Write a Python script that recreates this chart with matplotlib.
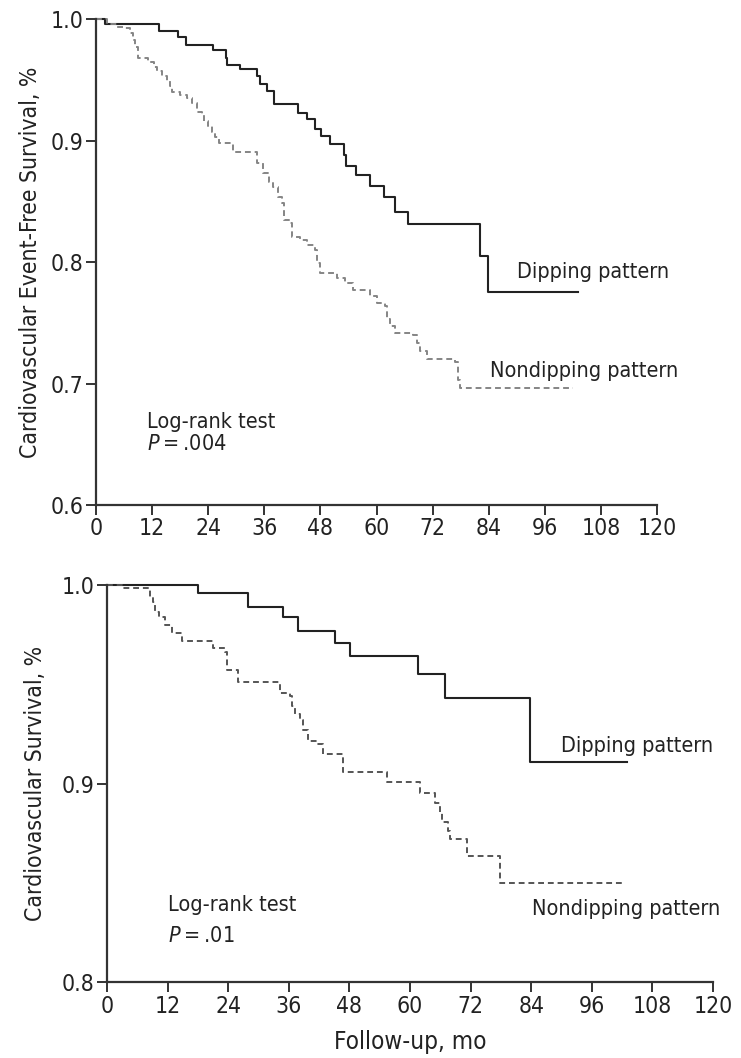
import matplotlib
matplotlib.use('Agg')
import matplotlib.pyplot as plt

plt.rcParams['font.family'] = ['DejaVu Sans']
plt.rcParams['font.stretch'] = 'condensed'
plt.rcParams['mathtext.fontset'] = 'custom'
plt.rcParams['mathtext.it'] = 'DejaVu Sans:italic'
plt.rcParams['mathtext.rm'] = 'DejaVu Sans'

# top panel: event-free survival (months, survival after each event)
top_dip_t = [0, 1.9, 13.5, 17.6, 19.2, 25.1, 27.8, 28.1, 30.9, 34.4, 35.1, 36.5, 38.1,
             43.3, 45.1, 46.8, 48.1, 50.1, 53.0, 53.5, 55.6, 58.6, 61.6, 64.0, 66.7,
             82.1, 83.8, 103]
top_dip_s = [1.0, 0.996, 0.990, 0.985, 0.979, 0.975, 0.968, 0.962, 0.959, 0.953, 0.947,
             0.941, 0.930, 0.923, 0.918, 0.910, 0.904, 0.897, 0.888, 0.879, 0.872, 0.863,
             0.854, 0.841, 0.831, 0.805, 0.775, 0.775]

top_nondip_t = [0, 2.3, 4.4, 5.8, 7.3, 8.0, 8.3, 9.0, 11.2, 12.3, 13.0, 14.1, 15.1, 15.8,
                16.2, 18.0, 19.4, 20.5, 21.5, 22.6, 23.0, 24.0, 24.7, 25.5, 26.2, 29.4,
                34.4, 35.8, 36.9, 37.9, 39.0, 39.7, 40.1, 41.5, 41.9, 43.6, 45.1, 46.8,
                47.2, 47.9, 51.5, 53.3, 55.0, 58.6, 60.0, 61.8, 62.2, 62.9, 64.0, 67.9,
                68.6, 69.3, 70.7, 76.8, 77.5, 77.9, 102]
top_nondip_s = [1.0, 0.996, 0.994, 0.993, 0.9885, 0.983, 0.9775, 0.968, 0.965, 0.961, 0.957,
                0.953, 0.949, 0.945, 0.940, 0.938, 0.935, 0.931, 0.924, 0.921, 0.916, 0.912,
                0.9075, 0.903, 0.898, 0.891, 0.8815, 0.873, 0.866, 0.862, 0.854, 0.849,
                0.835, 0.832, 0.821, 0.818, 0.814, 0.810, 0.799, 0.791, 0.787, 0.783, 0.777,
                0.772, 0.766, 0.764, 0.753, 0.747, 0.742, 0.740, 0.733, 0.727, 0.720, 0.718,
                0.703, 0.696, 0.696]

# bottom panel: cardiovascular survival
bot_dip_t = [0, 18.0, 27.9, 34.9, 37.9, 45.1, 48.1, 61.6, 66.9, 83.8, 103]
bot_dip_s = [1.0, 0.996, 0.989, 0.984, 0.977, 0.971, 0.964, 0.955, 0.943, 0.911, 0.911]

bot_nondip_t = [0, 2.9, 8.5, 9.2, 9.5, 10.2, 11.5, 12.8, 14.8, 21.0, 23.4, 23.7, 26.0, 34.3,
                36.2, 36.6, 37.2, 38.2, 38.9, 39.9, 41.5, 42.8, 46.8, 55.4, 62.0, 64.9,
                65.9, 66.3, 67.6, 67.9, 71.2, 77.8, 102.6]
bot_nondip_s = [1.0, 0.9985, 0.994, 0.9916, 0.9865, 0.984, 0.980, 0.976, 0.972, 0.968, 0.966,
                0.957, 0.951, 0.9455, 0.944, 0.939, 0.935, 0.932, 0.927, 0.9215, 0.920,
                0.915, 0.906, 0.901, 0.895, 0.890, 0.8856, 0.8805, 0.876, 0.872, 0.8634,
                0.850, 0.850]

x_ticks = [0, 12, 24, 36, 48, 60, 72, 84, 96, 108, 120]

txt_col = '#222222'
ax_col = '#333333'
fs_tick = 16.5
fs_lab = 16.5
fs_txt = 15.5

fig = plt.figure(figsize=(7.41, 10.58), dpi=100)
ax1 = fig.add_axes([0.1296, 0.5227, 0.7571, 0.4591])
ax2 = fig.add_axes([0.1444, 0.0718, 0.8178, 0.3753])


def style_axes(ax, ylo, yticks):
    ax.set_xlim(0, 120)
    ax.set_ylim(ylo, 1.0)
    ax.set_xticks(x_ticks)
    ax.set_yticks(yticks)
    ax.set_yticklabels(['{:.1f}'.format(v) for v in yticks])
    for side in ['top', 'right']:
        ax.spines[side].set_visible(False)
    for side in ['left', 'bottom']:
        ax.spines[side].set_linewidth(1.6)
        ax.spines[side].set_color(ax_col)
    ax.tick_params(direction='out', length=7, width=1.4, color=ax_col,
                   labelsize=fs_tick, labelcolor=txt_col, pad=2)


# top panel
ax1.step(top_dip_t, top_dip_s, where='post', color='#222222', lw=1.5, clip_on=False)
ax1.step(top_nondip_t, top_nondip_s, where='post', color='#858585', lw=1.4,
         linestyle=(0, (3, 2)), clip_on=False)
style_axes(ax1, 0.6, [0.6, 0.7, 0.8, 0.9, 1.0])
ax1.set_ylabel('Cardiovascular Event-Free Survival, %', fontsize=fs_lab, color=txt_col)
ax1.yaxis.set_label_coords(-0.096, 0.5)
ax1.text(90, 0.792, 'Dipping pattern', fontsize=fs_txt, color=txt_col, va='center')
ax1.text(84.3, 0.710, 'Nondipping pattern', fontsize=fs_txt, color=txt_col, va='center')
ax1.text(11, 0.668, 'Log-rank test', fontsize=fs_txt, color=txt_col, va='center')
ax1.text(11, 0.650, '$P$\u2009=\u2009.004', fontsize=fs_txt, color=txt_col, va='center')

# bottom panel
ax2.step(bot_dip_t, bot_dip_s, where='post', color='#222222', lw=1.5, clip_on=False)
ax2.step(bot_nondip_t, bot_nondip_s, where='post', color='#555555', lw=1.4,
         linestyle=(0, (3, 2)), clip_on=False)
style_axes(ax2, 0.8, [0.8, 0.9, 1.0])
ax2.set_ylabel('Cardiovascular Survival, %', fontsize=fs_lab, color=txt_col)
ax2.yaxis.set_label_coords(-0.099, 0.5)
ax2.set_xlabel('Follow-up, mo', fontsize=17.5, color=txt_col, labelpad=9)
ax2.text(90, 0.919, 'Dipping pattern', fontsize=fs_txt, color=txt_col, va='center')
ax2.text(84.2, 0.837, 'Nondipping pattern', fontsize=fs_txt, color=txt_col, va='center')
ax2.text(12.1, 0.839, 'Log-rank test', fontsize=fs_txt, color=txt_col, va='center')
ax2.text(12.1, 0.823, '$P$\u2009=\u2009.01', fontsize=fs_txt, color=txt_col, va='center')

plt.savefig('out.png', dpi=100)
